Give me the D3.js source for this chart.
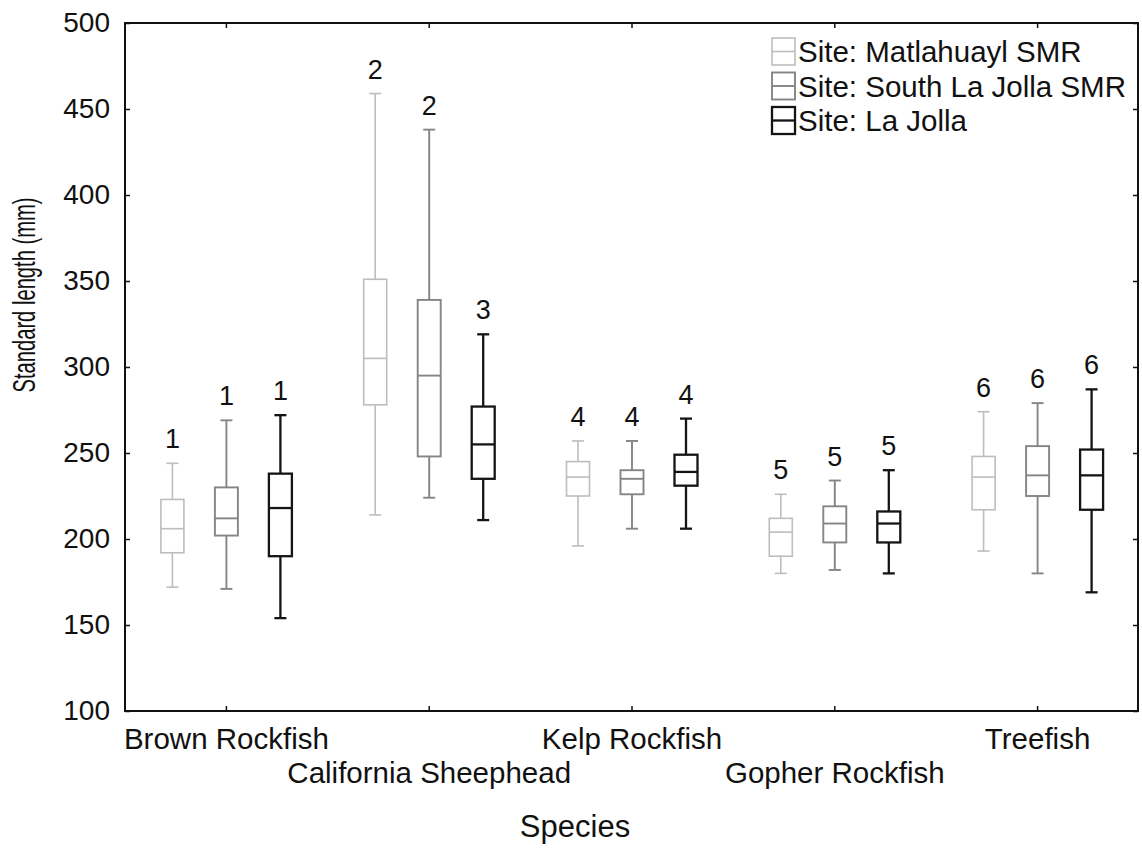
<!DOCTYPE html>
<html>
<head>
<meta charset="utf-8">
<script src="https://cdn.jsdelivr.net/npm/d3@7"></script>
<style>
  body { margin: 0; background: #fff; }
  text { font-family: "Liberation Sans", Arial, sans-serif; fill: #111; }
</style>
</head>
<body>
<div id="chart"></div>
<script>
// categories and series
var species = ["Brown Rockfish", "California Sheephead", "Kelp Rockfish", "Gopher Rockfish", "Treefish"];
var sites = ["Site: Matlahuayl SMR", "Site: South La Jolla SMR", "Site: La Jolla"];

// [low whisker, q1, median, q3, high whisker] for each species
var matlahuayl = [
  [172, 192, 206, 223, 244],
  [214, 278, 305, 351, 459],
  [196, 225, 236, 245, 257],
  [180, 190, 204, 212, 226],
  [193, 217, 236, 248, 274]
];
var southLaJolla = [
  [171, 202, 212, 230, 269],
  [224, 248, 295, 339, 438],
  [206, 226, 235, 240, 257],
  [182, 198, 209, 219, 234],
  [180, 225, 237, 254, 279]
];
var laJolla = [
  [154, 190, 218, 238, 272],
  [211, 235, 255, 277, 319],
  [206, 231, 239, 249, 270],
  [180, 198, 209, 216, 240],
  [169, 217, 237, 252, 287]
];
// group letters above each box
var groupLabels = [
  ["1", "1", "1"],
  ["2", "2", "3"],
  ["4", "4", "4"],
  ["5", "5", "5"],
  ["6", "6", "6"]
];
var yTicks = [100, 150, 200, 250, 300, 350, 400, 450, 500];

var seriesData = [matlahuayl, southLaJolla, laJolla];
var colors = ["#bdbdbd", "#858585", "#141414"];
var strokes = [1.6, 1.9, 2.3];

var width = 1142, height = 850;
var margin = {top: 23, right: 3, bottom: 139, left: 125};

var svg = d3.select("#chart").append("svg")
  .attr("width", width)
  .attr("height", height);

var x = d3.scaleBand()
  .domain(species)
  .range([margin.left, width - margin.right]);

var xSite = d3.scalePoint()
  .domain(sites)
  .range([-54, 54]);

var y = d3.scaleLinear()
  .domain([100, 500])
  .range([height - margin.bottom, margin.top]);

var boxW = 23, capW = 12;

// frame
svg.append("rect")
  .attr("x", margin.left)
  .attr("y", margin.top)
  .attr("width", width - margin.left - margin.right - 1)
  .attr("height", height - margin.top - margin.bottom)
  .attr("fill", "none")
  .attr("stroke", "#111")
  .attr("stroke-width", 2);

// y axis (left) with inward ticks
var yAxis = svg.append("g")
  .attr("transform", "translate(" + margin.left + ",0)")
  .call(d3.axisLeft(y).tickValues(yTicks).tickSize(-5).tickPadding(15).tickFormat(d3.format("d")));
yAxis.select(".domain").remove();
yAxis.selectAll("line").attr("stroke", "#111").attr("stroke-width", 1.5);
yAxis.selectAll("text").style("font-size", "28px").attr("fill", "#111");

// right ticks
var yAxisR = svg.append("g")
  .attr("transform", "translate(" + (width - margin.right - 1) + ",0)")
  .call(d3.axisRight(y).tickValues(yTicks).tickSize(-5).tickFormat(""));
yAxisR.select(".domain").remove();
yAxisR.selectAll("line").attr("stroke", "#111").attr("stroke-width", 1.5);

// x axis (bottom) with staggered labels
var xAxis = svg.append("g")
  .attr("transform", "translate(0," + (height - margin.bottom) + ")")
  .call(d3.axisBottom(x).tickSize(-5).tickPadding(0));
xAxis.select(".domain").remove();
xAxis.selectAll("line").attr("stroke", "#111").attr("stroke-width", 1.5);
xAxis.selectAll("text")
  .style("font-size", "29.5px")
  .attr("fill", "#111")
  .attr("dy", null)
  .attr("y", function(d, i) { return i % 2 === 0 ? 38 : 72; });

// top ticks
var xAxisT = svg.append("g")
  .attr("transform", "translate(0," + margin.top + ")")
  .call(d3.axisTop(x).tickSize(-5).tickFormat(""));
xAxisT.select(".domain").remove();
xAxisT.selectAll("line").attr("stroke", "#111").attr("stroke-width", 1.5);

// boxes
var boxes = [];
seriesData.forEach(function(series, s) {
  series.forEach(function(v, i) {
    boxes.push({species: species[i], site: sites[s], s: s, v: v, label: groupLabels[i][s]});
  });
});

var g = svg.selectAll(".box")
  .data(boxes)
  .enter().append("g")
  .attr("class", "box")
  .attr("transform", function(d) {
    return "translate(" + (x(d.species) + x.bandwidth() / 2 + xSite(d.site)) + ",0)";
  })
  .attr("stroke", function(d) { return colors[d.s]; })
  .attr("stroke-width", function(d) { return strokes[d.s]; })
  .attr("fill", "none");

// whiskers
g.append("line")
  .attr("x1", 0).attr("x2", 0)
  .attr("y1", function(d) { return y(d.v[4]); })
  .attr("y2", function(d) { return y(d.v[3]); });
g.append("line")
  .attr("x1", 0).attr("x2", 0)
  .attr("y1", function(d) { return y(d.v[1]); })
  .attr("y2", function(d) { return y(d.v[0]); });
// caps
g.append("line")
  .attr("x1", -capW / 2).attr("x2", capW / 2)
  .attr("y1", function(d) { return y(d.v[4]); })
  .attr("y2", function(d) { return y(d.v[4]); });
g.append("line")
  .attr("x1", -capW / 2).attr("x2", capW / 2)
  .attr("y1", function(d) { return y(d.v[0]); })
  .attr("y2", function(d) { return y(d.v[0]); });
// box
g.append("rect")
  .attr("x", -boxW / 2)
  .attr("width", boxW)
  .attr("y", function(d) { return y(d.v[3]); })
  .attr("height", function(d) { return y(d.v[1]) - y(d.v[3]); })
  .attr("fill", "#fff");
// median
g.append("line")
  .attr("x1", -boxW / 2).attr("x2", boxW / 2)
  .attr("y1", function(d) { return y(d.v[2]); })
  .attr("y2", function(d) { return y(d.v[2]); });

// group letters
g.append("text")
  .attr("x", 0)
  .attr("y", function(d) { return y(d.v[4]) - 15; })
  .attr("text-anchor", "middle")
  .attr("stroke", "none")
  .attr("fill", "#111")
  .style("font-size", "27px")
  .text(function(d) { return d.label; });

// legend
var legend = svg.append("g").attr("transform", "translate(772,38)");
var li = legend.selectAll(".item")
  .data(sites)
  .enter().append("g")
  .attr("class", "item")
  .attr("transform", function(d, i) { return "translate(0," + (i * 34.5) + ")"; });
li.append("rect")
  .attr("width", 23).attr("height", 27)
  .attr("fill", "#fff")
  .attr("stroke", function(d, i) { return colors[i]; })
  .attr("stroke-width", function(d, i) { return strokes[i]; });
li.append("line")
  .attr("x1", 0).attr("x2", 23)
  .attr("y1", 13.5).attr("y2", 13.5)
  .attr("stroke", function(d, i) { return colors[i]; })
  .attr("stroke-width", function(d, i) { return strokes[i]; });
li.append("text")
  .attr("x", 26)
  .attr("y", 24)
  .style("font-size", "29.5px")
  .text(function(d) { return d; });

// axis titles
svg.append("text")
  .attr("x", 575)
  .attr("y", 837)
  .attr("text-anchor", "middle")
  .style("font-size", "31px")
  .text("Species");

svg.append("text")
  .attr("transform", "translate(35,295) rotate(-90)")
  .attr("text-anchor", "middle")
  .attr("textLength", 195)
  .attr("lengthAdjust", "spacingAndGlyphs")
  .style("font-size", "31px")
  .text("Standard length (mm)");
</script>
</body>
</html>
